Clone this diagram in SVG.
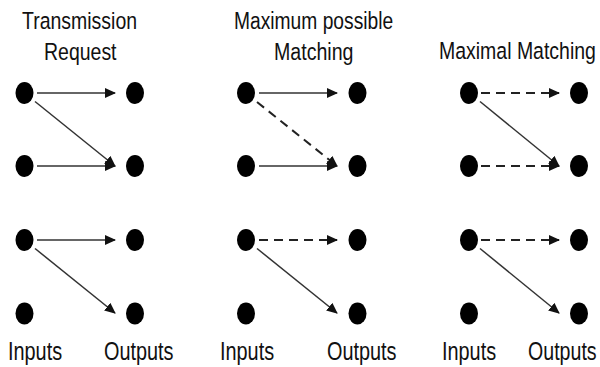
<svg xmlns="http://www.w3.org/2000/svg" width="600" height="367" viewBox="0 0 600 367">
<defs>
<marker id="ah" markerUnits="userSpaceOnUse" markerWidth="12" markerHeight="11" refX="10" refY="5" orient="auto" viewBox="0 0 12 11">
<path d="M0,0 L11,5 L0,10 z" fill="#111"/>
</marker>
</defs>
<style>
.t{font-family:"Liberation Sans",Arial,sans-serif;font-size:24.5px;fill:#111}
.l{font-family:"Liberation Sans",Arial,sans-serif;font-size:26.5px;fill:#111}
.dot{fill:#000}
.s{stroke:#333;stroke-width:1.5;fill:none;marker-end:url(#ah)}
.d{stroke:#222;stroke-width:2;stroke-dasharray:9 6;fill:none;marker-end:url(#ah)}
</style>
<rect width="600" height="367" fill="#fff"/>
<g id="titles">
<text class="t" transform="translate(22,29) scale(0.795,1)">Transmission</text>
<text class="t" transform="translate(44,60) scale(0.795,1)">Request</text>
<text class="t" transform="translate(234,29) scale(0.785,1)">Maximum possible</text>
<text class="t" transform="translate(274,60) scale(0.8,1)">Matching</text>
<text class="t" transform="translate(439,59) scale(0.795,1)">Maximal Matching</text>
</g>
<g id="labels">
<text class="l" transform="translate(8,360) scale(0.75,1)">Inputs</text>
<text class="l" transform="translate(104,360) scale(0.75,1)">Outputs</text>
<text class="l" transform="translate(220,360) scale(0.75,1)">Inputs</text>
<text class="l" transform="translate(327,360) scale(0.75,1)">Outputs</text>
<text class="l" transform="translate(442,360) scale(0.75,1)">Inputs</text>
<text class="l" transform="translate(528,360) scale(0.74,1)">Outputs</text>
</g>
<g id="p1-in1"><ellipse class="dot" cx="24.5" cy="93" rx="9" ry="11"/></g>
<g id="p1-in2"><ellipse class="dot" cx="24.5" cy="166" rx="9" ry="11"/></g>
<g id="p1-in3"><ellipse class="dot" cx="24.5" cy="240" rx="9" ry="11"/></g>
<g id="p1-in4"><ellipse class="dot" cx="24.5" cy="313.5" rx="9" ry="11"/></g>
<g id="p1-out1"><ellipse class="dot" cx="135" cy="93" rx="9" ry="11"/></g>
<g id="p1-out2"><ellipse class="dot" cx="135" cy="166" rx="9" ry="11"/></g>
<g id="p1-out3"><ellipse class="dot" cx="135" cy="240" rx="9" ry="11"/></g>
<g id="p1-out4"><ellipse class="dot" cx="135" cy="313.5" rx="9" ry="11"/></g>
<g id="p2-in1"><ellipse class="dot" cx="246" cy="93" rx="9" ry="11"/></g>
<g id="p2-in2"><ellipse class="dot" cx="246" cy="166" rx="9" ry="11"/></g>
<g id="p2-in3"><ellipse class="dot" cx="246" cy="240" rx="9" ry="11"/></g>
<g id="p2-in4"><ellipse class="dot" cx="246" cy="313.5" rx="9" ry="11"/></g>
<g id="p2-out1"><ellipse class="dot" cx="357.5" cy="93" rx="9" ry="11"/></g>
<g id="p2-out2"><ellipse class="dot" cx="357.5" cy="166" rx="9" ry="11"/></g>
<g id="p2-out3"><ellipse class="dot" cx="357.5" cy="240" rx="9" ry="11"/></g>
<g id="p2-out4"><ellipse class="dot" cx="357.5" cy="313.5" rx="9" ry="11"/></g>
<g id="p3-in1"><ellipse class="dot" cx="469" cy="93" rx="9" ry="11"/></g>
<g id="p3-in2"><ellipse class="dot" cx="469" cy="166" rx="9" ry="11"/></g>
<g id="p3-in3"><ellipse class="dot" cx="469" cy="240" rx="9" ry="11"/></g>
<g id="p3-in4"><ellipse class="dot" cx="469" cy="313.5" rx="9" ry="11"/></g>
<g id="p3-out1"><ellipse class="dot" cx="579" cy="93" rx="9" ry="11"/></g>
<g id="p3-out2"><ellipse class="dot" cx="579" cy="166" rx="9" ry="11"/></g>
<g id="p3-out3"><ellipse class="dot" cx="579" cy="240" rx="9" ry="11"/></g>
<g id="p3-out4"><ellipse class="dot" cx="579" cy="313.5" rx="9" ry="11"/></g>
<g id="connectors">
<line class="s" x1="37" y1="93" x2="115" y2="93"/>
<line class="s" x1="35" y1="101.5" x2="115" y2="166"/>
<line class="s" x1="37" y1="166" x2="115" y2="166"/>
<line class="s" x1="37" y1="240" x2="115" y2="240"/>
<line class="s" x1="35" y1="248.5" x2="115" y2="313"/>
<line class="s" x1="259" y1="93" x2="337" y2="93"/>
<line class="d" x1="257" y1="102" x2="337" y2="166" stroke-dasharray="11 6"/>
<line class="s" x1="259" y1="166" x2="337" y2="166"/>
<line class="d" x1="259" y1="240" x2="337" y2="240"/>
<line class="s" x1="257" y1="248.5" x2="337" y2="313"/>
<line class="d" x1="481" y1="93" x2="559" y2="93"/>
<line class="s" x1="480" y1="101.5" x2="559" y2="166"/>
<line class="d" x1="481" y1="166" x2="559" y2="166"/>
<line class="d" x1="481" y1="240" x2="559" y2="240"/>
<line class="s" x1="480" y1="248.5" x2="559" y2="313"/>
</g>
</svg>
